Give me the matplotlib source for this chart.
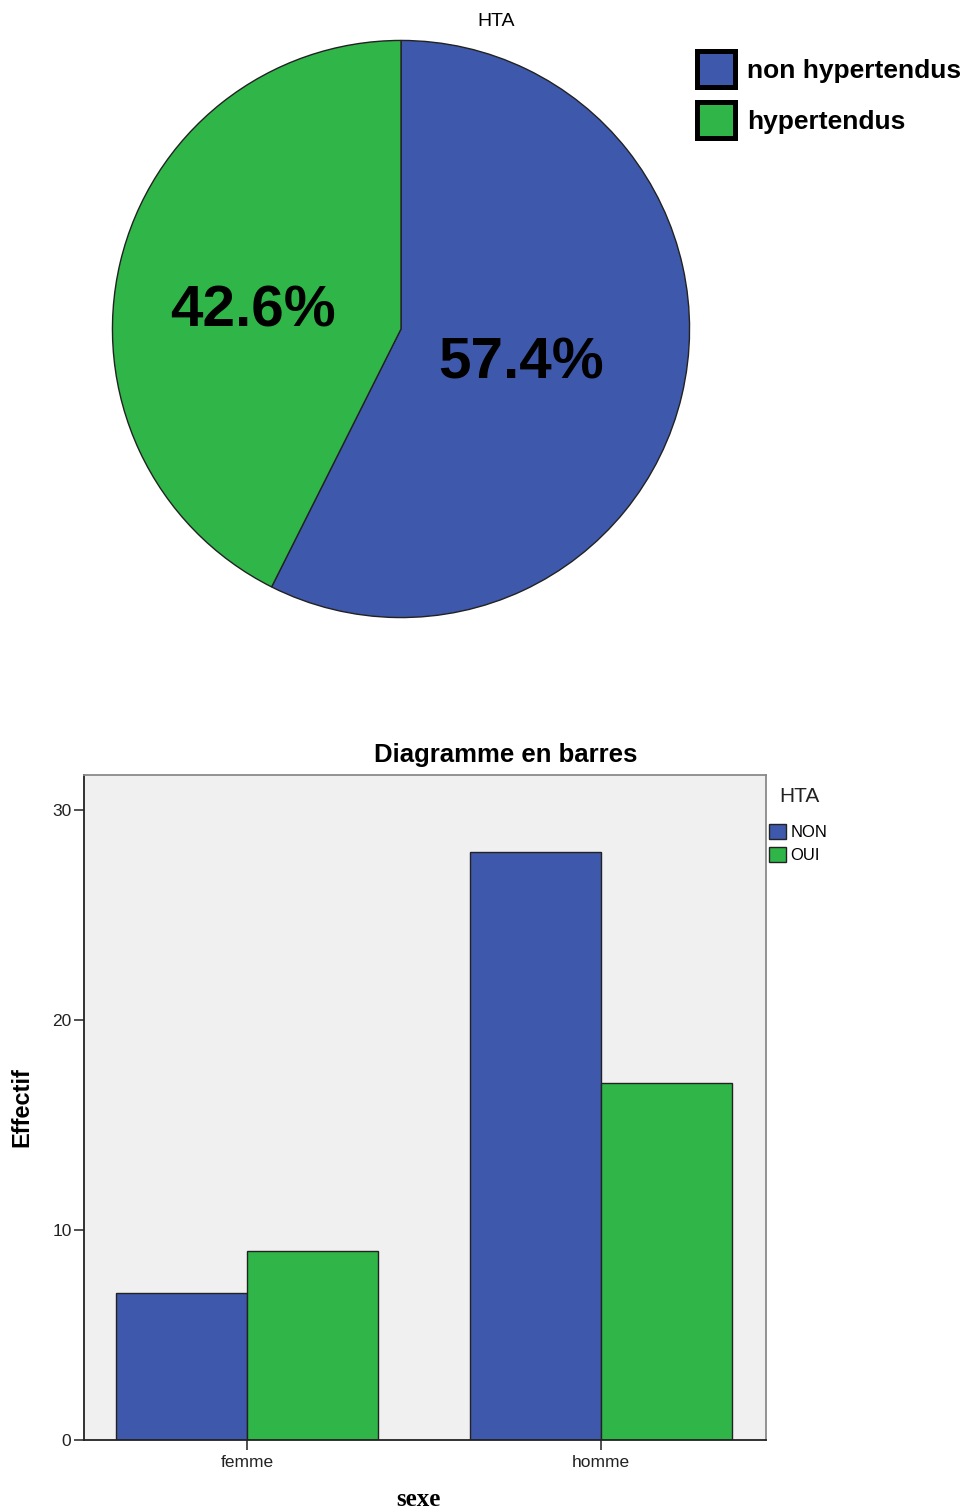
import matplotlib
matplotlib.use("Agg")
import matplotlib.pyplot as plt
from matplotlib.patches import Patch

plt.rcParams["font.family"] = ["Liberation Sans", "DejaVu Sans"]

# HTA pie
pie_labels = ["non hypertendus", "hypertendus"]
pie_pct = [57.4, 42.6]

# counts by sex and HTA status
sexes = ["femme", "homme"]
hta_levels = ["NON", "OUI"]
counts_non = [7, 28]
counts_oui = [9, 17]

blue = "#3e58ab"
green = "#2fb548"

W, H = 968, 1512
fig = plt.figure(figsize=(W / 100, H / 100), dpi=100)


def px_axes(x0, y0, x1, y1):
    # axes from pixel box (top-left origin)
    return fig.add_axes([x0 / W, 1 - y1 / H, (x1 - x0) / W, (y1 - y0) / H])


# ---- pie ----
ax_pie = px_axes(111, 39, 691, 619)
wedges, _, autotexts = ax_pie.pie(
    pie_pct, colors=[blue, green], startangle=90, counterclock=False,
    radius=1.0, autopct="%.1f%%",
    wedgeprops=dict(edgecolor="#222222", linewidth=1.0),
    textprops=dict(fontsize=42, fontweight="bold", color="black"),
)
autotexts[0].set_position((0.417, -0.121))
autotexts[1].set_position((-0.514, 0.059))
ax_pie.set_xlim(-1.005, 1.005)
ax_pie.set_ylim(-1.005, 1.005)
ax_pie.set_aspect("equal")
fig.text(496 / W, 1 - 22 / H, "HTA", ha="center", va="center", fontsize=14)

handles = [Patch(facecolor=c, edgecolor="black", linewidth=3.6) for c in (blue, green)]
fig.legend(handles, pie_labels, loc="upper left",
           bbox_to_anchor=(697 / W, 1 - 51 / H), frameon=False,
           prop=dict(size=19, weight="bold"), handlelength=1.45, handleheight=1.75,
           handletextpad=0.45, labelspacing=0.55, borderpad=0, borderaxespad=0)

# ---- grouped bars ----
ax = px_axes(84, 775, 766, 1440)
ax.set_facecolor("#f0f0f0")
width = 0.369
xs = list(range(len(sexes)))
ax.bar([x - width / 2 for x in xs], counts_non, width, color=blue,
       edgecolor="#222222", linewidth=1.0, label=hta_levels[0], zorder=2)
ax.bar([x + width / 2 for x in xs], counts_oui, width, color=green,
       edgecolor="#222222", linewidth=1.0, label=hta_levels[1], zorder=2)
ax.set_xlim(-0.46, 1.466)
ax.set_ylim(0, 31.67)
ax.set_yticks([0, 10, 20, 30])
ax.set_xticks(xs)
ax.set_xticklabels(sexes)
ax.tick_params(axis="both", labelsize=12.5, length=7, width=1.2, color="#333333",
               labelcolor="#222222")
ax.tick_params(axis="y", pad=2)
ax.tick_params(axis="x", pad=4)
for side in ("left", "bottom"):
    ax.spines[side].set_color("#222222")
    ax.spines[side].set_linewidth(1.3)
for side in ("top", "right"):
    ax.spines[side].set_color("#8a8a8a")
    ax.spines[side].set_linewidth(1.3)

fig.text(506 / W, 1 - 755 / H, "Diagramme en barres", ha="center", va="center",
         fontsize=18.5, fontweight="bold")
fig.text(22 / W, 1 - 1107 / H, "Effectif", ha="center", va="center",
         rotation=90, fontsize=17, fontweight="bold")
fig.text(418 / W, 1 - 1499 / H, "sexe", ha="center", va="center",
         fontsize=18, fontweight="bold", family=["Liberation Serif", "DejaVu Serif"])

# legend title sits indented from the swatches
fig.text(779 / W, 1 - 797 / H, "HTA", ha="left", va="center", fontsize=15,
         color="#222222")
leg = ax.legend(loc="upper left", bbox_to_anchor=(1.005, 1 - 49 / 665),
                frameon=False, prop=dict(size=12), handlelength=1.0,
                handleheight=1.0, handletextpad=0.25, labelspacing=0.4,
                borderpad=0, borderaxespad=0)
for h in leg.legend_handles:
    h.set_edgecolor("#222222")

fig.savefig("out.png", dpi=100)
